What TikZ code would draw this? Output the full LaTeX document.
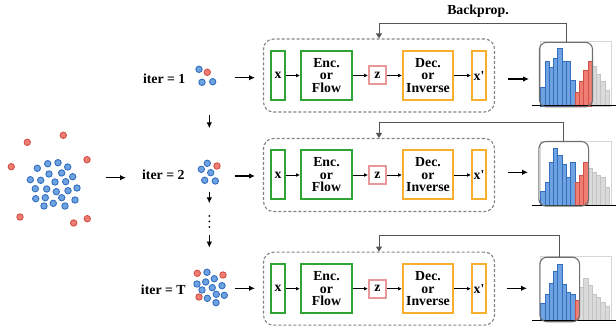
\documentclass[tikz,border=0pt]{standalone}
\usepackage{fontspec}
\setmainfont{Liberation Serif}
\usetikzlibrary{arrows.meta,calc}

\definecolor{cgreen}{RGB}{46,164,52}
\definecolor{corange}{RGB}{247,176,45}
\definecolor{cpink}{RGB}{232,152,152}
\definecolor{cdash}{RGB}{130,130,130}
\definecolor{cfb}{RGB}{85,85,85}
\definecolor{bluefill}{RGB}{110,162,224}
\definecolor{blueline}{RGB}{50,110,190}
\definecolor{redfill}{RGB}{238,125,115}
\definecolor{redline}{RGB}{210,80,70}
\definecolor{grayfill}{RGB}{218,218,218}
\definecolor{grayline}{RGB}{196,196,196}
\definecolor{hboxline}{RGB}{110,110,110}
\definecolor{framecol}{RGB}{214,214,214}

\tikzset{
  lbl/.style={font=\fontsize{13.8}{12.5}\selectfont\bfseries, inner sep=0pt},
  gbox/.style={draw=cgreen, line width=2pt, inner sep=0pt, minimum height=49pt, lbl},
  obox/.style={draw=corange, line width=2pt, inner sep=0pt, minimum height=49pt, lbl},
  zbox/.style={draw=cpink, line width=2pt, inner sep=0pt, minimum width=17pt, minimum height=18pt, lbl},
  dbox/.style={draw=cdash, line width=1.1pt, dash pattern=on 3pt off 2pt, rounded corners=10pt, minimum width=231pt, minimum height=73pt, inner sep=0pt},
  hbox/.style={draw=hboxline, line width=1.1pt, rounded corners=7pt, minimum height=64.5pt, inner sep=0pt},
  marrow/.style={line width=1.1pt, -{Latex[length=6pt,width=5.5pt]}},
  iarrow/.style={line width=0.9pt, -{Latex[length=4pt,width=3.8pt]}},
  fbarrow/.style={draw=cfb, line width=0.9pt, -{Triangle[length=5pt,width=6pt]}, color=cfb},
  barb/.style={fill=bluefill, draw=blueline, line width=0.5pt},
  barr/.style={fill=redfill, draw=redline, line width=0.5pt},
  barg/.style={fill=grayfill, draw=grayline, line width=0.5pt},
  bdot/.style={fill=bluefill, draw=blueline, line width=0.9pt},
  rdot/.style={fill=redfill, draw=redline, line width=0.9pt},
}

\newcommand\rowblock[2]{%
  \node[dbox] (b#1) at (379,#2) {};
  \node[gbox, minimum width=14pt] (x#1) at (278,#2) {x};
  \node[gbox, minimum width=51pt, align=center] (e#1) at (326.5,#2) {Enc.\\or\\Flow};
  \node[zbox] (z#1) at (377.5,#2) {z};
  \node[obox, minimum width=50pt, align=center] (d#1) at (428,#2) {Dec.\\or\\Inverse};
  \node[obox, minimum width=14pt] (p#1) at (479,#2) {x\textquotesingle};
  \draw[iarrow] (x#1) -- (e#1);
  \draw[iarrow] (e#1) -- (z#1);
  \draw[iarrow] (z#1) -- (d#1);
  \draw[iarrow] (d#1) -- (p#1);
}

% #1 base y, #2 list of height/type
\newcommand\histo[2]{%
  \draw[framecol, line width=0.6pt] (540,#1) rectangle (611,#1-64.5);
  \foreach \h/\c [count=\i from 0] in {#2} {
    \draw[bar\c] (540.5+\i*4.3,#1) rectangle ++(4.3,-\h);
  }
  \draw[line width=1pt] (532,#1) -- (616,#1);
}

\begin{document}
\begin{tikzpicture}[x=1pt,y=-1pt]
\useasboundingbox (0,0) rectangle (616,328);

% ---------- left scatter ----------
\foreach \p in {(27.3,142.3),(63.3,135.3),(11.3,166.7),(87,159.7),(20,217),(73.7,223),(87.3,218.7)}
  \draw[rdot] \p circle[radius=3.2pt];
\foreach \p in {(37.3,168.3),(47.7,163.7),(58,162.7),(67.7,167),(49,174),(61.7,173),(72.7,176.7),
  (30.3,179.7),(40.7,180.3),(55,182),(65.7,181.7),(35.3,188.7),(46.7,189),(56.3,191.7),(68,190.7),
  (77,188),(35.7,198.7),(45.3,197.7),(61.7,197.7),(75,200),(44,206),(53.3,203.3),(65,206)}
  \draw[bdot] \p circle[radius=3.2pt];

\coordinate (sa) at (106,177.7);
\coordinate (sb) at (126,177.7);
\draw[marrow] (sa) -- (sb);

% ---------- iteration labels and small clusters ----------
\node[lbl, anchor=base] (i1) at (164.2,84) {iter = 1};
\node[lbl, anchor=base] (i2) at (163.3,179.3) {iter = 2};
\node[lbl, anchor=base] (i3) at (163.3,295) {iter = T};

\foreach \p in {(199,69.3),(202,82.3),(212.7,81.7)} \draw[bdot] \p circle[radius=3.2pt];
\draw[rdot] (207.3,72.3) circle[radius=3.2pt];

\foreach \p in {(207.3,163.3),(201.3,169.3),(210.7,172.7),(204.7,180.3),(215.3,181)} \draw[bdot] \p circle[radius=3.2pt];
\draw[rdot] (217,166) circle[radius=3.2pt];

\foreach \p in {(207,272.3),(214.3,278.7),(197,284),(205.7,282),(212.3,287.7),(222,285.7),(202,290),
  (207.3,298.3),(216.3,294.3),(224.3,295.3),(216,302.7)} \draw[bdot] \p circle[radius=3.2pt];
\foreach \p in {(197.3,273.3),(223,275),(199,297)} \draw[rdot] \p circle[radius=3.2pt];

% down arrows and dots
\coordinate (da1) at (209.3,115);  \coordinate (db1) at (209.3,128.3);
\coordinate (da2) at (209.3,191.7);\coordinate (db2) at (209.3,203.3);
\coordinate (da3) at (209.3,235);  \coordinate (db3) at (209.3,247.7);
\draw[marrow] (da1) -- (db1);
\draw[marrow] (da2) -- (db2);
\draw[marrow] (da3) -- (db3);
\foreach \yy in {216,221.5,227} \fill (209.3,\yy) circle[radius=1pt];

% arrows into blocks
\coordinate (ca1) at (235,77.7);  \coordinate (cb1) at (255,77.7);
\coordinate (ca2) at (235,176);   \coordinate (cb2) at (255,176);
\coordinate (ca3) at (235,288.3); \coordinate (cb3) at (255,288.3);
\draw[marrow] (ca1) -- (cb1);
\draw[marrow] (ca2) -- (cb2);
\draw[marrow] (ca3) -- (cb3);

% ---------- blocks ----------
\rowblock{1}{75.5}
\rowblock{2}{175}
\rowblock{3}{288.7}

% arrows out of blocks
\coordinate (oa1) at (508,79);    \coordinate (ob1) at (529,79);
\coordinate (oa2) at (508,172.3); \coordinate (ob2) at (528,172.3);
\coordinate (oa3) at (507,288.3); \coordinate (ob3) at (527,288.3);
\draw[marrow] (oa1) -- (ob1);
\draw[marrow] (oa2) -- (ob2);
\draw[marrow] (oa3) -- (ob3);

% ---------- histograms ----------
\histo{106}{18.7/b,45/b,38.3/b,47.7/b,57.7/b,45/b,45/b,25.3/b,13.3/r,25/r,36/r,45/r,39.3/g,32/g,24.3/g,16/g}
\node[hbox, minimum width=53pt] (h1) at (566,74.6) {};

\histo{205.5}{14.3/b,23.7/b,43.7/b,57/b,50.3/b,41/b,28.7/b,43.7/b,23.7/r,30.3/r,43.7/r,37.7/g,33/g,30.3/g,28/g,18/g}
\node[hbox, minimum width=49.7pt] (h2) at (563.7,173.8) {};

\histo{320.5}{17.3/b,26.7/b,37.3/b,49.3/b,56.7/b,36.7/b,28.3/b,26.7/b,20.7/r,33.3/g,42.7/g,35/g,26.7/g,23.3/g,18.3/g,14/g}
\node[hbox, minimum width=39.7pt] (h3) at (559.7,289.5) {};

% ---------- feedback ----------
\coordinate (f1) at (379,23);
\coordinate (f2) at (379,122);
\coordinate (f3) at (379,235);
\draw[fbarrow] (h1.north) |- (f1) -- (b1.north);
\draw[fbarrow] (h2.north) |- (f2) -- (b2.north);
\draw[fbarrow] (h3.north) |- (f3) -- (b3.north);

\node[lbl] (bp) at (478,11) {Backprop.};
\end{tikzpicture}
\end{document}
